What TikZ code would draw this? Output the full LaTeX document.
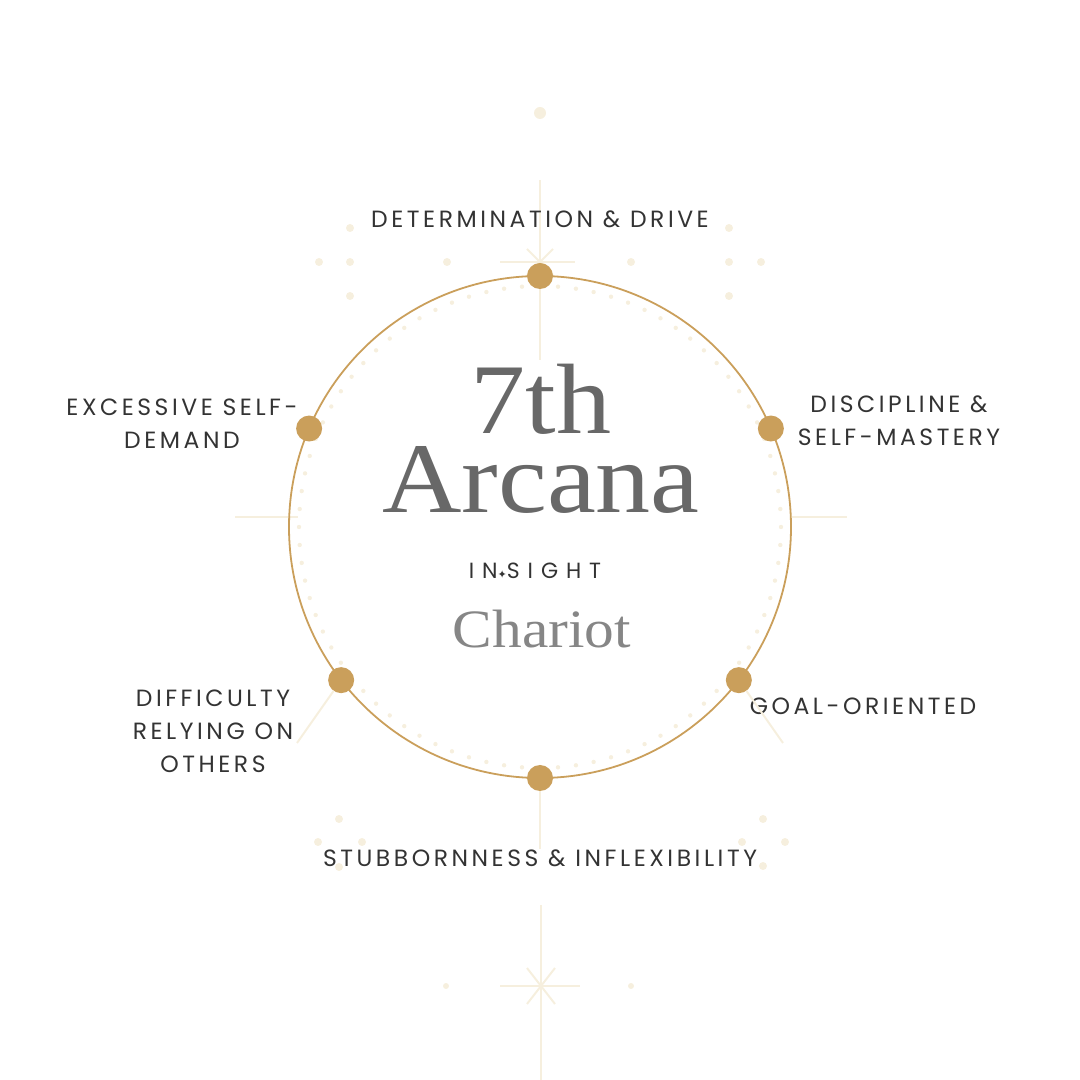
\documentclass[tikz,border=0pt]{standalone}
\usepackage{fontspec}
\usepackage{xcolor}
\usetikzlibrary{positioning,calc}
\setmainfont{Liberation Serif}
\newfontfamily\titlefont[FakeStretch=1.1]{Liberation Serif}
\newfontfamily\labelfont[LetterSpace=15]{Poppins}
\newfontfamily\insightfont[LetterSpace=36]{Poppins}
\newfontfamily\symfont{DejaVu Sans}
\definecolor{gold}{HTML}{CA9F5B}
\definecolor{faint}{HTML}{F6EFDE}
\definecolor{inktext}{HTML}{333333}
\definecolor{titlegray}{HTML}{686868}
\tikzset{
  lbl/.style={align=center, font=\labelfont\fontsize{23.5}{33}\selectfont, text=inktext, inner sep=0pt},
  gdot/.style={circle, fill=gold, minimum size=26pt, inner sep=0pt},
  fdot/.style={circle, fill=faint, minimum size=8pt, inner sep=0pt},
  ray/.style={draw=faint, line width=2pt},
  ttl/.style={font=\titlefont\fontsize{100}{79}\selectfont, text=titlegray, inner sep=0pt, align=center}
}

\begin{document}
\begin{tikzpicture}[x=1pt, y=1pt]
  \useasboundingbox (0,0) rectangle (1080,1080);
  \coordinate (c) at (540,553);

  % faint background sparkles
  \draw[ray] (540,900) -- (540,720);
  \draw[ray] (500,818) -- (575,818);
  \draw[ray] (527,831) -- (553,805) (527,805) -- (553,831);
  \draw[ray] (541,175) -- (541,0);
  \draw[ray] (500,94) -- (580,94);
  \draw[ray] (527,112) -- (555,76) (527,76) -- (555,112);
  \draw[ray] (235,563) -- (298,563);
  \draw[ray] (792,563) -- (847,563);
  \node[fdot, minimum size=12pt] (tdot) at (540,967) {};
  \node[fdot, minimum size=6pt] (bl) at (446,94) {};
  \node[fdot, minimum size=6pt] (br) at (631,94) {};
  \foreach \p [count=\i] in {(350,852),(319,818),(350,818),(350,784),(447,818),
                             (729,852),(729,818),(761,818),(729,784),(631,818),
                             (339,261),(318,238),(362,238),(339,213),
                             (763,261),(742,238),(785,238),(763,214)}
    \node[fdot] (s\i) at \p {};

  % inner ring of dots
  \foreach \k in {0,...,83}
    \fill[faint] ($(c)+(\k*4.2857:241)$) circle (2.2pt);

  % main ring
  \draw[gold, line width=1.8pt] (c) circle (251);
  \node[gdot] (top) at ($(c)+(90:251)$) {};
  \node[gdot] (ur)  at ($(c)+(23.1:251)$) {};
  \node[gdot] (ul)  at ($(c)+(156.9:251)$) {};
  \node[gdot] (lr)  at ($(c)+(-37.6:251)$) {};
  \node[gdot] (ll)  at ($(c)+(217.6:251)$) {};
  \node[gdot] (bot) at ($(c)+(270:251)$) {};

  % labels
  \node[lbl] (drive)   at (540,861) {DETERMINATION \& DRIVE};
  \node[lbl] (disc)    at (899,659) {DISCIPLINE \&\\SELF-MASTERY};
  \node[lbl] (excess)  at (182,656) {EXCESSIVE SELF-\\DEMAND};
  \node[lbl] (diff)    at (213,349) {DIFFICULTY\\RELYING ON\\OTHERS};
  \node[lbl] (goal)    at (863,374) {GOAL-ORIENTED};
  \node[lbl] (stubb)   at (540,222) {STUBBORNNESS \& INFLEXIBILITY};

  \draw[ray] (bot) -- (stubb.north);
  \draw[ray] (ll) -- (297,337);
  \draw[ray] (lr) -- (783,337);

  % centre title
  \node[ttl, anchor=south] (title) at (541,566) {7th\\Arcana};
  \node[inner sep=0pt, anchor=base, text=inktext,
        font=\insightfont\fontsize{22}{22}\selectfont] (insight) at (535,501)
        {IN{\symfont\fontsize{11}{11}\selectfont ✦}SIGHT};
  \node[ttl, anchor=base, font=\titlefont\fontsize{54}{54}\selectfont, text=titlegray!80] (chariot) at (542,432) {Chariot};
\end{tikzpicture}
\end{document}
